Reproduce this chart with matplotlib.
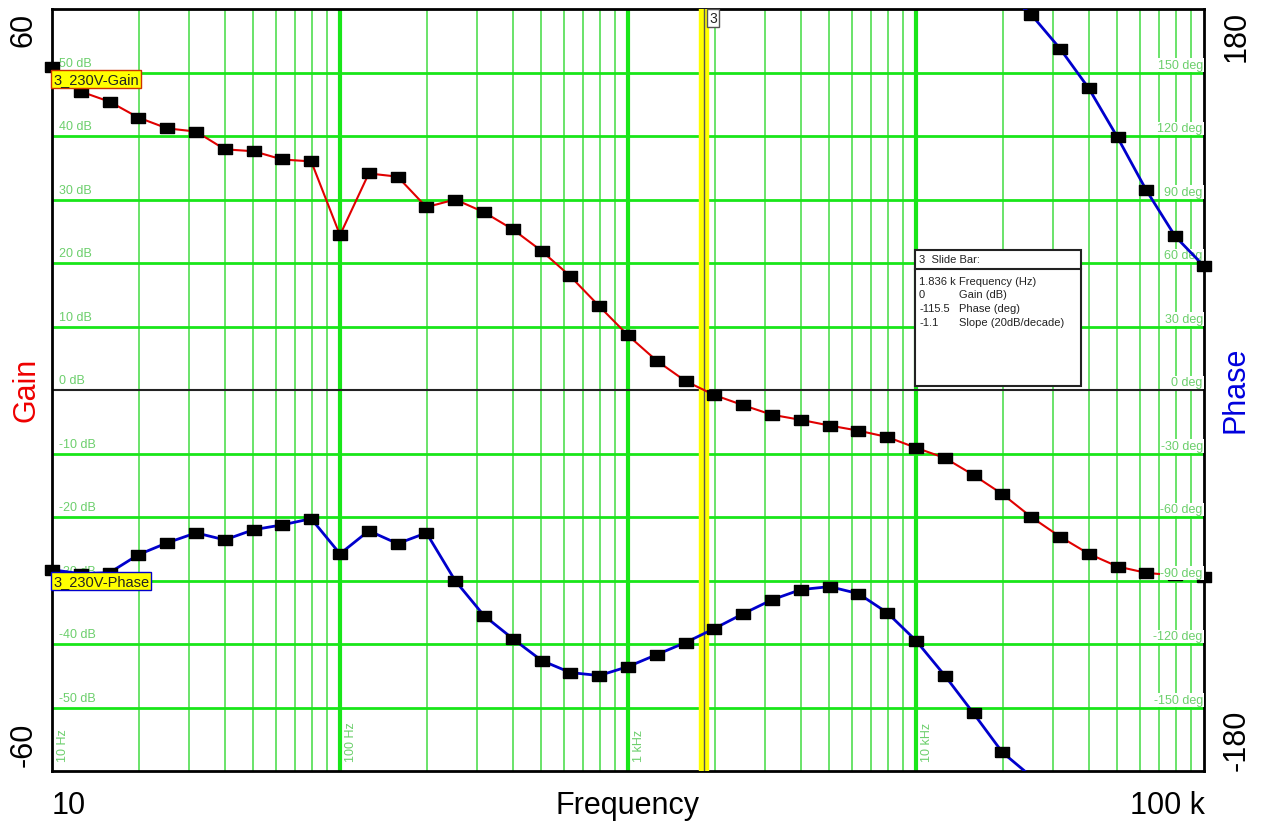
import matplotlib
matplotlib.use('Agg')
import matplotlib.pyplot as plt
import numpy as np
from matplotlib.patches import Rectangle

plt.rcParams['font.family'] = ['Liberation Sans', 'DejaVu Sans']

# 10 points per decade, 10 Hz .. 100 kHz
freq = 10 ** np.linspace(1, 5, 41)

gain_db = [50.8, 47.0, 45.4, 42.9, 41.2, 40.7, 37.9, 37.6, 36.3, 36.0,
           24.4, 34.1, 33.6, 28.8, 30.0, 28.0, 25.3, 21.9, 17.9, 13.2,
           8.6, 4.6, 1.4, -0.8, -2.4, -3.9, -4.7, -5.6, -6.4, -7.4,
           -9.1, -10.7, -13.4, -16.4, -20.0, -23.1, -25.8, -27.8, -28.8, -29.2,
           -29.4]

phase_deg = [-84.9, -86.8, -86.3, -77.8, -72.2, -67.5, -70.8, -66.0, -63.7, -60.8,
             -77.4, -66.5, -72.6, -67.5, -90.1, -106.6, -117.5, -127.8, -133.5, -134.9,
             -130.7, -125.0, -119.3, -112.7, -105.7, -99.1, -94.3, -92.9, -96.2, -105.2,
             -118.4, -134.9, -152.8, -171.2, 177.4, 161.3, 142.5, 119.3, 94.3, 72.6,
             58.5]

cursor_freq = 1836
slide_lines = [("1.836 k", "Frequency (Hz)"),
               ("0", "Gain (dB)"),
               ("-115.5", "Phase (deg)"),
               ("-1.1", "Slope (20dB/decade)")]

W, H = 1261, 828
fig = plt.figure(figsize=(W / 100, H / 100), dpi=100)
L, R, T, B = 52, 1204, 10, 772
ax = fig.add_axes([L / W, 1 - B / H, (R - L) / W, (B - T) / H])
ax.set_xscale('log')
ax.set_xlim(10, 1e5)
ax.set_ylim(-60, 60)
ax2 = ax.twinx()
ax2.set_ylim(-180, 180)

for a in (ax, ax2):
    a.set_xticks([])
    a.set_yticks([])
    a.minorticks_off()
for s in ax.spines.values():
    s.set_linewidth(2)
ax2.axis('off')

major_c = '#19e619'
minor_c = '#5ee05e'
lab_c = '#6ccf6c'

# grid
for d in range(1, 5):
    for m in range(2, 10):
        ax.axvline(m * 10 ** d, color=minor_c, lw=1.3, zorder=1)
for d in range(2, 5):
    ax.axvline(10 ** d, color=major_c, lw=3, zorder=1)
for yv in range(-50, 60, 10):
    if yv == 0:
        ax.axhline(0, color='#222222', lw=1.5, zorder=2)
    else:
        ax.axhline(yv, color=major_c, lw=2, zorder=1)

# grid labels
for yv in range(-50, 60, 10):
    ax.text(10.6, yv + 0.6, f"{yv} dB", color=lab_c, fontsize=9, va='bottom', ha='left', zorder=2)
for pv in range(-150, 180, 30):
    ax2.text(0.999, (pv + 180) / 360 + 0.002, f"{pv} deg", transform=ax2.transAxes,
             color=lab_c, fontsize=9, va='bottom', ha='right', zorder=2,
             bbox=dict(facecolor='white', edgecolor='none', pad=0.5))
for fv, lab in [(10, "10 Hz"), (100, "100 Hz"), (1000, "1 kHz"), (10000, "10 kHz")]:
    ax.text(fv * 1.04, -58.5, lab, color=lab_c, fontsize=9, rotation=90,
            va='bottom', ha='left', zorder=2)

# cursor
ax.axvline(cursor_freq, color='#ffff00', lw=7.5, zorder=3)
ax.axvline(cursor_freq, color='#555555', lw=1, zorder=3)

rect_marker = [(-1, -0.65), (1, -0.65), (1, 0.65), (-1, 0.65), (-1, -0.65)]

ax.plot(freq, gain_db, color='#e00000', lw=1.5, zorder=4, clip_on=True)
ax.plot(freq, gain_db, ls='none', marker=rect_marker, ms=10.5, color='black', zorder=5, clip_on=False)

ph = np.array(phase_deg)
ph_un = np.rad2deg(np.unwrap(np.deg2rad(ph)))
for k in (-360, 0, 360):
    ax2.plot(freq, ph_un + k, color='#0000cc', lw=2, zorder=4)
ax2.plot(freq, ph, ls='none', marker=rect_marker, ms=10.5, color='black', zorder=5, clip_on=False)

# trace labels
ax.text(10.1, 49.0, "3_230V-Gain", fontsize=10.5, color='#222222', va='center', ha='left', zorder=6,
        bbox=dict(facecolor='#ffff00', edgecolor='#cc3300', pad=1.5, lw=1))
ax2.text(10.1, -90.1, "3_230V-Phase", fontsize=10.5, color='#222222', va='center', ha='left', zorder=6,
         bbox=dict(facecolor='#ffff00', edgecolor='#0000cc', pad=1.5, lw=1))

# cursor tag
fig.text(713 / W, 1 - 19 / H, "3", fontsize=10, ha='center', va='center', color='#222222',
         bbox=dict(facecolor='white', edgecolor='#555555', pad=1.5, lw=1), zorder=7)


# slide bar box
def px(x, y):
    return x / W, 1 - y / H


bx0, by0, bx1, by1 = 915, 251, 1081, 387
box = Rectangle(px(bx0, by1), (bx1 - bx0) / W, (by1 - by0) / H, transform=fig.transFigure,
                facecolor='white', edgecolor='#222222', lw=1.5, zorder=8)
fig.add_artist(box)
sep = plt.Line2D([bx0 / W, bx1 / W], [1 - 270 / H, 1 - 270 / H], transform=fig.transFigure,
                 color='#222222', lw=1.5, zorder=9)
fig.add_artist(sep)
fig.text(*px(919, 260), "3  Slide Bar:", fontsize=8, va='center', ha='left', color='#222222', zorder=9)
for i, (v, lab) in enumerate(slide_lines):
    yy = 282 + i * 13.5
    fig.text(*px(919, yy), v, fontsize=8, va='center', ha='left', color='#222222', zorder=9)
    fig.text(*px(959, yy), lab, fontsize=8, va='center', ha='left', color='#222222', zorder=9)

# outer labels
big = 22
fig.text(*px(24, 30), "60", fontsize=big, rotation=90, ha='center', va='center')
fig.text(*px(24, 745), "-60", fontsize=big, rotation=90, ha='center', va='center')
fig.text(*px(26, 390), "Gain", fontsize=big, rotation=90, ha='center', va='center', color='#ee0000')
fig.text(*px(1237, 36), "180", fontsize=big, rotation=90, ha='center', va='center')
fig.text(*px(1237, 740), "-180", fontsize=big, rotation=90, ha='center', va='center')
fig.text(*px(1236, 390), "Phase", fontsize=big, rotation=90, ha='center', va='center', color='#0000dd')
fig.text(*px(52, 806), "10", fontsize=big, ha='left', va='center')
fig.text(*px(628, 806), "Frequency", fontsize=big, ha='center', va='center')
fig.text(*px(1205, 806), "100 k", fontsize=big, ha='right', va='center')

fig.savefig('out.png', dpi=100, facecolor='white')
